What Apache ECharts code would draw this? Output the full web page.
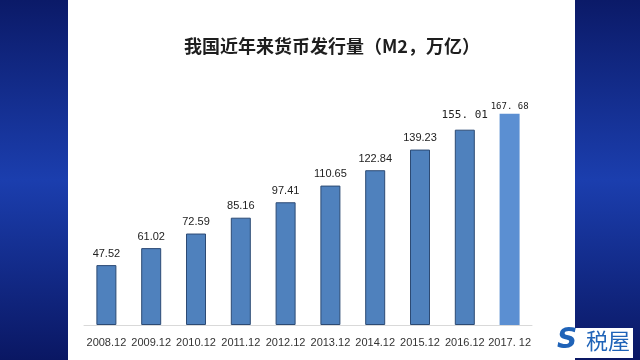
<!DOCTYPE html>
<html><head><meta charset="utf-8">
<script src="https://cdn.jsdelivr.net/npm/echarts@6/dist/echarts.min.js"></script>
<style>html,body{margin:0;padding:0;}#c{width:640px;height:360px;}</style>
</head><body><div id="c"></div>
<script>
const categories = ['2008.12','2009.12','2010.12','2011.12','2012.12','2013.12','2014.12','2015.12','2016.12','2017. 12'];
const values = [47.52, 61.02, 72.59, 85.16, 97.41, 110.65, 122.84, 139.23, 155.01, 167.68];
const valueLabels = ['47.52','61.02','72.59','85.16','97.41','110.65','122.84','139.23','155. 01','167. 68'];
const titleText = '我国近年来货币发行量（M2，万亿）';

const chart = echarts.init(document.getElementById('c'), null, {renderer:'canvas'});
const sans = '"Liberation Sans", Arial, sans-serif';
const mono = '"DejaVu Sans Mono", "Liberation Mono", monospace';
const data = values.map((v, i) => {
  const last = i === values.length - 1;
  const item = { value: v,
    itemStyle: last ? { color: '#5b8fd2', borderWidth: 0 } : { color: '#4f81bd', borderColor: '#2c4a74', borderWidth: 1 },
    label: { formatter: valueLabels[i] } };
  if (i >= 8) {
    item.label.fontFamily = mono;
    item.label.fontSize = i === 9 ? 9 : 11;
    item.label.distance = i === 9 ? 3 : 9;
  }
  return item;
});

chart.setOption({
  backgroundColor: {
    type: 'linear', x: 0, y: 0, x2: 0, y2: 1,
    colorStops: [{offset: 0, color: '#0b1a68'}, {offset: 0.5, color: '#1b3eae'}, {offset: 1, color: '#0a1763'}]
  },
  animation: false,
  graphic: [
    { type: 'rect', z: -10, shape: { x: 68, y: 0, width: 507, height: 360 }, style: { fill: '#ffffff' } },
    { type: 'text', left: 184, top: 37, style: { text: titleText, font: 'bold 18px "Noto Sans CJK SC", sans-serif', fill: '#1e1e1e' } },
    { type: 'rect', shape: { x: 555, y: 328, width: 78, height: 30 }, style: { fill: '#ffffff' } },
    { type: 'text', left: 557, top: 327, style: { text: 'S', font: 'italic 900 28px "DejaVu Sans", sans-serif', fill: '#1f63b8' } },
    { type: 'text', left: 586, top: 330, style: { text: '税屋', font: '22px "Noto Sans CJK SC", sans-serif', fill: '#1f63b8' } }
  ],
  grid: { left: 84, right: 640 - 532, top: 73, bottom: 35 },
  xAxis: {
    type: 'category', data: categories,
    axisLine: { lineStyle: { color: '#d9d9d9' } },
    axisTick: { show: false },
    axisLabel: { color: '#333', fontSize: 11, fontFamily: sans, margin: 12, interval: 0 }
  },
  yAxis: { type: 'value', min: 0, max: 200, show: false, splitLine: { show: false } },
  series: [{
    type: 'bar', data: data, barWidth: 20,
    label: { show: true, position: 'top', distance: 6, color: '#222', fontSize: 11, fontFamily: sans }
  }]
});
</script></body></html>
